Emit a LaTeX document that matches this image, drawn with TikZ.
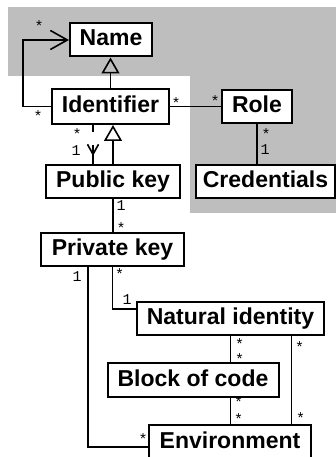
\documentclass[tikz,border=0pt]{standalone}
\usepackage{fontspec}
\usetikzlibrary{arrows.meta,positioning,decorations.markings}
\newfontfamily\boxfont{Liberation Sans}
\newfontfamily\multfont{Liberation Mono}
\definecolor{zone}{RGB}{190,190,190}

\begin{document}
\begin{tikzpicture}[x=1pt,y=-1pt,font=\boxfont\bfseries\fontsize{23}{26}\selectfont]
\tikzset{
  cls/.style={draw,line width=2pt,fill=white,inner sep=0pt,minimum height=33pt,text height=16.5pt,text depth=4.5pt},
  mult/.style={font=\multfont\mdseries\fontsize{15}{15}\selectfont,inner sep=0pt},
  assoc/.style={line width=1.6pt},
  gen/.style={line width=1.6pt,-{Triangle[open,length=16pt,width=18pt]}},
  nav/.style={line width=1.6pt,-{Straight Barb[length=17pt,width=19pt]}},
  dep/.style={line width=1.6pt,dash pattern=on 7pt off 13pt on 30pt off 1pt,
    postaction={decorate,decoration={markings,mark=at position 31pt with {\arrow{Straight Barb[length=10pt,width=11pt]}}}}}
}
\useasboundingbox (0,0) rectangle (336,457);
% grey zones
\fill[zone] (8,7) rectangle (336,76);
\fill[zone] (190,76) rectangle (336,213);

\node(name)[cls,minimum width=82pt] at (111,40) {Name};
\node(id)[cls,minimum width=117pt,minimum height=35pt] at (110.5,106.5) {Identifier};
\node(role)[cls,minimum width=70pt] at (257,106.5) {Role};
\node(pub)[cls,minimum width=134pt] at (113,181.5) {Public key};
\node(cred)[cls,minimum width=139pt] at (265.5,181.5) {Credentials};
\node(priv)[cls,minimum width=143pt] at (112.5,249.5) {Private key};
\node(nat)[cls,minimum width=187pt] at (230.5,318.5) {Natural identity};
\node(blk)[cls,minimum width=171pt,minimum height=34pt] at (193,380) {Block of code};
\node(env)[cls,minimum width=162pt,minimum height=34pt] at (230,442) {Environment};

\coordinate(d0) at ([xshift=-17.5pt]id.south);
\coordinate(ne) at ([xshift=61pt]nat.south);

\draw[gen](id.north)--(id.north |- name.south);
\draw[nav](id.west)--node[mult,pos=0,shift={(-13,9.5)}]{*} ++(-28,0) |- node[mult,pos=1,shift={(-30,-14)}]{*} (name.west);
\draw[assoc](id.east)--node[mult,pos=0,shift={(6,-3.5)}]{*} node[mult,pos=1,shift={(-6,-5.5)}]{*} (role.west);
\draw[assoc](role.south)--node[mult,pos=0,shift={(9,10)}]{*} node[mult,pos=1,shift={(8,-14)}]{1} (role.south |- cred.north);
\draw[dep](d0)--node[mult,pos=0,shift={(-16,9)}]{*} node[mult,pos=1,shift={(-17,-13)}]{1} (d0 |- pub.north);
\draw[gen](pub.north)--(pub.north |- id.south);
\draw[assoc](pub.south)--node[mult,pos=0,shift={(8,7)}]{1} node[mult,pos=1,shift={(8,-4)}]{*} (pub.south |- priv.north);
\draw[assoc]([xshift=-24.5pt]priv.south) |- node[mult,pos=0,shift={(-11,10)}]{1} node[mult,pos=1,shift={(-5,-8)}]{*} ([yshift=-5pt]env.west);
\draw[assoc](priv.south) |- node[mult,pos=0,shift={(7,7)}]{*} node[mult,pos=1,shift={(-9,-9)}]{1} ([yshift=9.5pt]nat.west);
\draw[assoc](nat.south)--node[mult,pos=0,shift={(9,8)}]{*} node[mult,pos=1,shift={(9,-3)}]{*} (nat.south |- blk.north);
\draw[assoc](ne)--node[mult,pos=0,shift={(8,11)}]{*} node[mult,pos=1,shift={(9,-6)}]{*} (ne |- env.north);
\draw[assoc](nat.south |- blk.south)--node[mult,pos=0,shift={(8,4)}]{*} node[mult,pos=1,shift={(8,-5)}]{*} (nat.south |- env.north);
\end{tikzpicture}
\end{document}
